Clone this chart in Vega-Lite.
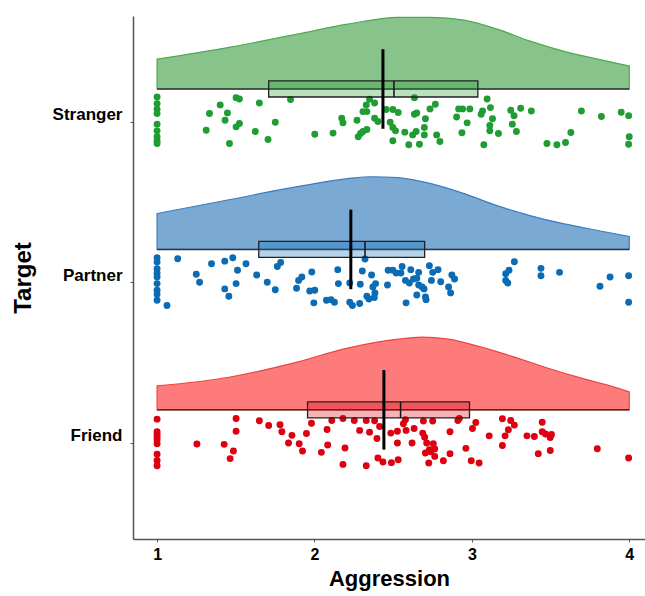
{
  "$schema": "https://vega.github.io/schema/vega-lite/v6.json",
  "width": 512,
  "height": 523,
  "autosize": {"type": "none"},
  "padding": {"left": 133, "top": 16, "right": 0, "bottom": 57},
  "background": "white",
  "config": {
    "view": {"stroke": null},
    "font": "Liberation Sans",
    "axis": {"grid": false}
  },
  "datasets": {
    "density": [
      {"target": "Stranger", "aggression": 1.0, "top": 3.391, "base": 3.205},
      {"target": "Stranger", "aggression": 1.465, "top": 3.466, "base": 3.205},
      {"target": "Stranger", "aggression": 1.89, "top": 3.547, "base": 3.205},
      {"target": "Stranger", "aggression": 2.21, "top": 3.609, "base": 3.205},
      {"target": "Stranger", "aggression": 2.53, "top": 3.652, "base": 3.205},
      {"target": "Stranger", "aggression": 2.74, "top": 3.652, "base": 3.205},
      {"target": "Stranger", "aggression": 2.95, "top": 3.634, "base": 3.205},
      {"target": "Stranger", "aggression": 3.16, "top": 3.578, "base": 3.205},
      {"target": "Stranger", "aggression": 3.37, "top": 3.503, "base": 3.205},
      {"target": "Stranger", "aggression": 3.58, "top": 3.441, "base": 3.205},
      {"target": "Stranger", "aggression": 3.80, "top": 3.391, "base": 3.205},
      {"target": "Stranger", "aggression": 4.0, "top": 3.348, "base": 3.205},
      {"target": "Partner", "aggression": 1.0, "top": 2.429, "base": 2.205},
      {"target": "Partner", "aggression": 1.465, "top": 2.516, "base": 2.205},
      {"target": "Partner", "aggression": 1.89, "top": 2.596, "base": 2.205},
      {"target": "Partner", "aggression": 2.21, "top": 2.646, "base": 2.205},
      {"target": "Partner", "aggression": 2.36, "top": 2.658, "base": 2.205},
      {"target": "Partner", "aggression": 2.53, "top": 2.652, "base": 2.205},
      {"target": "Partner", "aggression": 2.74, "top": 2.615, "base": 2.205},
      {"target": "Partner", "aggression": 2.95, "top": 2.553, "base": 2.205},
      {"target": "Partner", "aggression": 3.16, "top": 2.478, "base": 2.205},
      {"target": "Partner", "aggression": 3.37, "top": 2.416, "base": 2.205},
      {"target": "Partner", "aggression": 3.58, "top": 2.366, "base": 2.205},
      {"target": "Partner", "aggression": 3.80, "top": 2.323, "base": 2.205},
      {"target": "Partner", "aggression": 4.0, "top": 2.286, "base": 2.205},
      {"target": "Friend", "aggression": 1.0, "top": 1.354, "base": 1.205},
      {"target": "Friend", "aggression": 1.465, "top": 1.410, "base": 1.205},
      {"target": "Friend", "aggression": 1.89, "top": 1.503, "base": 1.205},
      {"target": "Friend", "aggression": 2.21, "top": 1.590, "base": 1.205},
      {"target": "Friend", "aggression": 2.53, "top": 1.646, "base": 1.205},
      {"target": "Friend", "aggression": 2.68, "top": 1.658, "base": 1.205},
      {"target": "Friend", "aggression": 2.85, "top": 1.646, "base": 1.205},
      {"target": "Friend", "aggression": 3.06, "top": 1.596, "base": 1.205},
      {"target": "Friend", "aggression": 3.27, "top": 1.534, "base": 1.205},
      {"target": "Friend", "aggression": 3.48, "top": 1.466, "base": 1.205},
      {"target": "Friend", "aggression": 3.69, "top": 1.404, "base": 1.205},
      {"target": "Friend", "aggression": 3.90, "top": 1.348, "base": 1.205},
      {"target": "Friend", "aggression": 4.0, "top": 1.317, "base": 1.205}
    ],
    "summary": [
      {"target": "Stranger", "q1": 1.709, "q3": 3.038, "median": 2.505, "mean": 2.435, "boxLo": 3.155, "boxHi": 3.255, "meanLo": 2.957, "meanHi": 3.453, "base": 3.205, "xmin": 1, "xmax": 4},
      {"target": "Partner", "q1": 1.646, "q3": 2.70, "median": 2.321, "mean": 2.231, "boxLo": 2.155, "boxHi": 2.255, "meanLo": 1.957, "meanHi": 2.453, "base": 2.205, "xmin": 1, "xmax": 4},
      {"target": "Friend", "q1": 1.956, "q3": 2.985, "median": 2.547, "mean": 2.441, "boxLo": 1.155, "boxHi": 1.255, "meanLo": 0.957, "meanHi": 1.453, "base": 1.205, "xmin": 1, "xmax": 4}
    ],
    "points": [
      {"target": "Stranger", "aggression": 1.0, "y": 3.155},
      {"target": "Stranger", "aggression": 1.0, "y": 3.114},
      {"target": "Stranger", "aggression": 1.0, "y": 3.079},
      {"target": "Stranger", "aggression": 1.0, "y": 3.052},
      {"target": "Stranger", "aggression": 1.0, "y": 2.986},
      {"target": "Stranger", "aggression": 1.0, "y": 2.944},
      {"target": "Stranger", "aggression": 1.0, "y": 2.907},
      {"target": "Stranger", "aggression": 1.0, "y": 2.882},
      {"target": "Stranger", "aggression": 1.0, "y": 2.865},
      {"target": "Stranger", "aggression": 1.502, "y": 3.151},
      {"target": "Stranger", "aggression": 1.523, "y": 3.143},
      {"target": "Stranger", "aggression": 1.650, "y": 3.118},
      {"target": "Stranger", "aggression": 1.401, "y": 3.106},
      {"target": "Stranger", "aggression": 1.848, "y": 3.139},
      {"target": "Stranger", "aggression": 1.333, "y": 3.052},
      {"target": "Stranger", "aggression": 1.447, "y": 3.056},
      {"target": "Stranger", "aggression": 1.432, "y": 3.010},
      {"target": "Stranger", "aggression": 1.312, "y": 2.948},
      {"target": "Stranger", "aggression": 1.502, "y": 2.969},
      {"target": "Stranger", "aggression": 1.523, "y": 2.990},
      {"target": "Stranger", "aggression": 1.460, "y": 2.865},
      {"target": "Stranger", "aggression": 1.624, "y": 2.940},
      {"target": "Stranger", "aggression": 1.705, "y": 2.890},
      {"target": "Stranger", "aggression": 1.751, "y": 2.998},
      {"target": "Stranger", "aggression": 2.002, "y": 2.923},
      {"target": "Stranger", "aggression": 2.118, "y": 2.930},
      {"target": "Stranger", "aggression": 2.350, "y": 3.141},
      {"target": "Stranger", "aggression": 2.329, "y": 3.106},
      {"target": "Stranger", "aggression": 2.382, "y": 3.118},
      {"target": "Stranger", "aggression": 2.308, "y": 3.064},
      {"target": "Stranger", "aggression": 2.333, "y": 3.064},
      {"target": "Stranger", "aggression": 2.173, "y": 3.023},
      {"target": "Stranger", "aggression": 2.181, "y": 2.994},
      {"target": "Stranger", "aggression": 2.270, "y": 3.010},
      {"target": "Stranger", "aggression": 2.382, "y": 3.023},
      {"target": "Stranger", "aggression": 2.403, "y": 3.002},
      {"target": "Stranger", "aggression": 2.308, "y": 2.940},
      {"target": "Stranger", "aggression": 2.333, "y": 2.952},
      {"target": "Stranger", "aggression": 2.278, "y": 2.907},
      {"target": "Stranger", "aggression": 2.293, "y": 2.928},
      {"target": "Stranger", "aggression": 2.456, "y": 3.077},
      {"target": "Stranger", "aggression": 2.498, "y": 3.077},
      {"target": "Stranger", "aggression": 2.532, "y": 3.058},
      {"target": "Stranger", "aggression": 2.481, "y": 2.998},
      {"target": "Stranger", "aggression": 2.498, "y": 2.965},
      {"target": "Stranger", "aggression": 2.515, "y": 2.944},
      {"target": "Stranger", "aggression": 2.498, "y": 2.882},
      {"target": "Stranger", "aggression": 2.574, "y": 2.936},
      {"target": "Stranger", "aggression": 2.599, "y": 2.857},
      {"target": "Stranger", "aggression": 2.635, "y": 3.151},
      {"target": "Stranger", "aggression": 2.635, "y": 3.048},
      {"target": "Stranger", "aggression": 2.650, "y": 3.056},
      {"target": "Stranger", "aggression": 2.705, "y": 3.019},
      {"target": "Stranger", "aggression": 2.698, "y": 2.965},
      {"target": "Stranger", "aggression": 2.646, "y": 2.940},
      {"target": "Stranger", "aggression": 2.624, "y": 2.919},
      {"target": "Stranger", "aggression": 2.698, "y": 2.919},
      {"target": "Stranger", "aggression": 2.667, "y": 2.861},
      {"target": "Stranger", "aggression": 2.734, "y": 3.081},
      {"target": "Stranger", "aggression": 2.768, "y": 3.110},
      {"target": "Stranger", "aggression": 2.776, "y": 2.919},
      {"target": "Stranger", "aggression": 2.797, "y": 2.878},
      {"target": "Stranger", "aggression": 2.903, "y": 3.031},
      {"target": "Stranger", "aggression": 2.916, "y": 3.081},
      {"target": "Stranger", "aggression": 2.941, "y": 3.081},
      {"target": "Stranger", "aggression": 2.987, "y": 3.081},
      {"target": "Stranger", "aggression": 2.970, "y": 2.994},
      {"target": "Stranger", "aggression": 2.937, "y": 2.932},
      {"target": "Stranger", "aggression": 3.097, "y": 3.143},
      {"target": "Stranger", "aggression": 3.118, "y": 3.089},
      {"target": "Stranger", "aggression": 3.068, "y": 3.068},
      {"target": "Stranger", "aggression": 3.059, "y": 3.048},
      {"target": "Stranger", "aggression": 3.131, "y": 3.019},
      {"target": "Stranger", "aggression": 3.114, "y": 2.977},
      {"target": "Stranger", "aggression": 3.114, "y": 2.944},
      {"target": "Stranger", "aggression": 3.169, "y": 2.928},
      {"target": "Stranger", "aggression": 3.076, "y": 2.857},
      {"target": "Stranger", "aggression": 3.247, "y": 3.072},
      {"target": "Stranger", "aggression": 3.268, "y": 3.039},
      {"target": "Stranger", "aggression": 3.310, "y": 3.085},
      {"target": "Stranger", "aggression": 3.378, "y": 3.068},
      {"target": "Stranger", "aggression": 3.257, "y": 2.986},
      {"target": "Stranger", "aggression": 3.283, "y": 2.940},
      {"target": "Stranger", "aggression": 3.477, "y": 2.865},
      {"target": "Stranger", "aggression": 3.540, "y": 2.857},
      {"target": "Stranger", "aggression": 3.595, "y": 2.872},
      {"target": "Stranger", "aggression": 3.629, "y": 2.934},
      {"target": "Stranger", "aggression": 3.696, "y": 3.068},
      {"target": "Stranger", "aggression": 3.823, "y": 3.033},
      {"target": "Stranger", "aggression": 3.949, "y": 3.060},
      {"target": "Stranger", "aggression": 3.996, "y": 3.039},
      {"target": "Stranger", "aggression": 4.0, "y": 2.907},
      {"target": "Stranger", "aggression": 3.996, "y": 2.861},
      {"target": "Partner", "aggression": 1.0, "y": 2.153},
      {"target": "Partner", "aggression": 1.0, "y": 2.126},
      {"target": "Partner", "aggression": 1.0, "y": 2.085},
      {"target": "Partner", "aggression": 1.0, "y": 2.058},
      {"target": "Partner", "aggression": 1.0, "y": 2.033},
      {"target": "Partner", "aggression": 1.0, "y": 1.992},
      {"target": "Partner", "aggression": 1.0, "y": 1.950},
      {"target": "Partner", "aggression": 1.0, "y": 1.925},
      {"target": "Partner", "aggression": 1.0, "y": 1.888},
      {"target": "Partner", "aggression": 1.063, "y": 1.855},
      {"target": "Partner", "aggression": 1.131, "y": 2.147},
      {"target": "Partner", "aggression": 1.249, "y": 2.050},
      {"target": "Partner", "aggression": 1.270, "y": 2.000},
      {"target": "Partner", "aggression": 1.346, "y": 2.116},
      {"target": "Partner", "aggression": 1.430, "y": 2.132},
      {"target": "Partner", "aggression": 1.481, "y": 2.153},
      {"target": "Partner", "aggression": 1.511, "y": 2.075},
      {"target": "Partner", "aggression": 1.565, "y": 2.116},
      {"target": "Partner", "aggression": 1.430, "y": 1.959},
      {"target": "Partner", "aggression": 1.456, "y": 1.913},
      {"target": "Partner", "aggression": 1.502, "y": 1.992},
      {"target": "Partner", "aggression": 1.633, "y": 2.046},
      {"target": "Partner", "aggression": 1.700, "y": 2.000},
      {"target": "Partner", "aggression": 1.751, "y": 1.954},
      {"target": "Partner", "aggression": 1.785, "y": 2.124},
      {"target": "Partner", "aggression": 1.764, "y": 2.099},
      {"target": "Partner", "aggression": 1.886, "y": 1.963},
      {"target": "Partner", "aggression": 1.899, "y": 2.012},
      {"target": "Partner", "aggression": 1.920, "y": 2.033},
      {"target": "Partner", "aggression": 1.983, "y": 2.064},
      {"target": "Partner", "aggression": 1.970, "y": 1.946},
      {"target": "Partner", "aggression": 2.002, "y": 1.950},
      {"target": "Partner", "aggression": 1.996, "y": 1.872},
      {"target": "Partner", "aggression": 2.076, "y": 1.888},
      {"target": "Partner", "aggression": 2.105, "y": 1.892},
      {"target": "Partner", "aggression": 2.127, "y": 1.876},
      {"target": "Partner", "aggression": 2.148, "y": 2.079},
      {"target": "Partner", "aggression": 2.152, "y": 1.992},
      {"target": "Partner", "aggression": 2.224, "y": 1.996},
      {"target": "Partner", "aggression": 2.224, "y": 1.876},
      {"target": "Partner", "aggression": 2.241, "y": 1.855},
      {"target": "Partner", "aggression": 2.287, "y": 1.868},
      {"target": "Partner", "aggression": 2.291, "y": 1.988},
      {"target": "Partner", "aggression": 2.304, "y": 2.070},
      {"target": "Partner", "aggression": 2.321, "y": 2.145},
      {"target": "Partner", "aggression": 2.363, "y": 2.046},
      {"target": "Partner", "aggression": 2.371, "y": 1.971},
      {"target": "Partner", "aggression": 2.388, "y": 1.992},
      {"target": "Partner", "aggression": 2.333, "y": 1.913},
      {"target": "Partner", "aggression": 2.346, "y": 1.896},
      {"target": "Partner", "aggression": 2.380, "y": 1.905},
      {"target": "Partner", "aggression": 2.384, "y": 1.934},
      {"target": "Partner", "aggression": 2.464, "y": 1.983},
      {"target": "Partner", "aggression": 2.468, "y": 2.075},
      {"target": "Partner", "aggression": 2.498, "y": 2.075},
      {"target": "Partner", "aggression": 2.519, "y": 2.058},
      {"target": "Partner", "aggression": 2.557, "y": 2.099},
      {"target": "Partner", "aggression": 2.549, "y": 2.058},
      {"target": "Partner", "aggression": 2.578, "y": 2.012},
      {"target": "Partner", "aggression": 2.603, "y": 1.996},
      {"target": "Partner", "aggression": 2.612, "y": 2.079},
      {"target": "Partner", "aggression": 2.629, "y": 2.021},
      {"target": "Partner", "aggression": 2.650, "y": 2.025},
      {"target": "Partner", "aggression": 2.662, "y": 2.062},
      {"target": "Partner", "aggression": 2.650, "y": 1.921},
      {"target": "Partner", "aggression": 2.662, "y": 1.983},
      {"target": "Partner", "aggression": 2.684, "y": 1.971},
      {"target": "Partner", "aggression": 2.696, "y": 1.959},
      {"target": "Partner", "aggression": 2.705, "y": 1.909},
      {"target": "Partner", "aggression": 2.709, "y": 1.892},
      {"target": "Partner", "aggression": 2.582, "y": 1.872},
      {"target": "Partner", "aggression": 2.730, "y": 2.104},
      {"target": "Partner", "aggression": 2.751, "y": 2.062},
      {"target": "Partner", "aggression": 2.743, "y": 2.012},
      {"target": "Partner", "aggression": 2.785, "y": 2.079},
      {"target": "Partner", "aggression": 2.802, "y": 2.004},
      {"target": "Partner", "aggression": 2.852, "y": 1.971},
      {"target": "Partner", "aggression": 2.865, "y": 1.934},
      {"target": "Partner", "aggression": 2.873, "y": 2.046},
      {"target": "Partner", "aggression": 2.890, "y": 2.021},
      {"target": "Partner", "aggression": 3.215, "y": 2.054},
      {"target": "Partner", "aggression": 3.236, "y": 2.075},
      {"target": "Partner", "aggression": 3.215, "y": 2.012},
      {"target": "Partner", "aggression": 3.228, "y": 1.996},
      {"target": "Partner", "aggression": 3.270, "y": 2.128},
      {"target": "Partner", "aggression": 3.439, "y": 2.087},
      {"target": "Partner", "aggression": 3.439, "y": 2.041},
      {"target": "Partner", "aggression": 3.557, "y": 2.062},
      {"target": "Partner", "aggression": 3.814, "y": 1.975},
      {"target": "Partner", "aggression": 3.878, "y": 2.033},
      {"target": "Partner", "aggression": 3.996, "y": 2.041},
      {"target": "Partner", "aggression": 3.996, "y": 1.876},
      {"target": "Friend", "aggression": 1.0, "y": 1.147},
      {"target": "Friend", "aggression": 1.0, "y": 1.068},
      {"target": "Friend", "aggression": 1.0, "y": 1.052},
      {"target": "Friend", "aggression": 1.0, "y": 1.035},
      {"target": "Friend", "aggression": 1.0, "y": 1.019},
      {"target": "Friend", "aggression": 1.0, "y": 0.994},
      {"target": "Friend", "aggression": 1.0, "y": 0.928},
      {"target": "Friend", "aggression": 1.0, "y": 0.890},
      {"target": "Friend", "aggression": 1.0, "y": 0.857},
      {"target": "Friend", "aggression": 1.253, "y": 0.992},
      {"target": "Friend", "aggression": 1.426, "y": 0.990},
      {"target": "Friend", "aggression": 1.485, "y": 0.948},
      {"target": "Friend", "aggression": 1.464, "y": 0.901},
      {"target": "Friend", "aggression": 1.502, "y": 1.151},
      {"target": "Friend", "aggression": 1.502, "y": 1.072},
      {"target": "Friend", "aggression": 1.650, "y": 1.137},
      {"target": "Friend", "aggression": 1.709, "y": 1.108},
      {"target": "Friend", "aggression": 1.781, "y": 1.112},
      {"target": "Friend", "aggression": 1.793, "y": 1.068},
      {"target": "Friend", "aggression": 1.835, "y": 0.998},
      {"target": "Friend", "aggression": 1.857, "y": 1.046},
      {"target": "Friend", "aggression": 1.903, "y": 0.994},
      {"target": "Friend", "aggression": 1.924, "y": 0.948},
      {"target": "Friend", "aggression": 1.949, "y": 1.058},
      {"target": "Friend", "aggression": 1.981, "y": 1.122},
      {"target": "Friend", "aggression": 2.044, "y": 0.940},
      {"target": "Friend", "aggression": 2.080, "y": 1.083},
      {"target": "Friend", "aggression": 2.084, "y": 0.986},
      {"target": "Friend", "aggression": 2.110, "y": 1.139},
      {"target": "Friend", "aggression": 2.181, "y": 1.151},
      {"target": "Friend", "aggression": 2.194, "y": 0.967},
      {"target": "Friend", "aggression": 2.181, "y": 0.865},
      {"target": "Friend", "aggression": 2.253, "y": 1.139},
      {"target": "Friend", "aggression": 2.287, "y": 1.077},
      {"target": "Friend", "aggression": 2.329, "y": 1.139},
      {"target": "Friend", "aggression": 2.329, "y": 0.857},
      {"target": "Friend", "aggression": 2.350, "y": 1.066},
      {"target": "Friend", "aggression": 2.382, "y": 1.137},
      {"target": "Friend", "aggression": 2.397, "y": 1.027},
      {"target": "Friend", "aggression": 2.403, "y": 0.905},
      {"target": "Friend", "aggression": 2.414, "y": 1.101},
      {"target": "Friend", "aggression": 2.435, "y": 0.880},
      {"target": "Friend", "aggression": 2.489, "y": 0.876},
      {"target": "Friend", "aggression": 2.485, "y": 1.060},
      {"target": "Friend", "aggression": 2.532, "y": 0.894},
      {"target": "Friend", "aggression": 2.527, "y": 1.072},
      {"target": "Friend", "aggression": 2.527, "y": 0.998},
      {"target": "Friend", "aggression": 2.565, "y": 1.118},
      {"target": "Friend", "aggression": 2.582, "y": 1.077},
      {"target": "Friend", "aggression": 2.578, "y": 1.143},
      {"target": "Friend", "aggression": 2.620, "y": 0.998},
      {"target": "Friend", "aggression": 2.633, "y": 1.089},
      {"target": "Friend", "aggression": 2.692, "y": 1.135},
      {"target": "Friend", "aggression": 2.688, "y": 1.060},
      {"target": "Friend", "aggression": 2.700, "y": 1.035},
      {"target": "Friend", "aggression": 2.713, "y": 0.998},
      {"target": "Friend", "aggression": 2.705, "y": 0.936},
      {"target": "Friend", "aggression": 2.726, "y": 0.874},
      {"target": "Friend", "aggression": 2.730, "y": 0.957},
      {"target": "Friend", "aggression": 2.738, "y": 0.944},
      {"target": "Friend", "aggression": 2.751, "y": 1.135},
      {"target": "Friend", "aggression": 2.755, "y": 0.994},
      {"target": "Friend", "aggression": 2.764, "y": 0.961},
      {"target": "Friend", "aggression": 2.764, "y": 0.915},
      {"target": "Friend", "aggression": 2.819, "y": 0.888},
      {"target": "Friend", "aggression": 2.861, "y": 1.068},
      {"target": "Friend", "aggression": 2.861, "y": 0.932},
      {"target": "Friend", "aggression": 2.911, "y": 1.139},
      {"target": "Friend", "aggression": 2.920, "y": 1.151},
      {"target": "Friend", "aggression": 2.962, "y": 0.965},
      {"target": "Friend", "aggression": 2.996, "y": 0.888},
      {"target": "Friend", "aggression": 3.004, "y": 1.089},
      {"target": "Friend", "aggression": 3.025, "y": 1.126},
      {"target": "Friend", "aggression": 3.046, "y": 0.874},
      {"target": "Friend", "aggression": 3.110, "y": 1.043},
      {"target": "Friend", "aggression": 3.194, "y": 1.149},
      {"target": "Friend", "aggression": 3.194, "y": 0.983},
      {"target": "Friend", "aggression": 3.211, "y": 1.043},
      {"target": "Friend", "aggression": 3.232, "y": 1.081},
      {"target": "Friend", "aggression": 3.247, "y": 1.139},
      {"target": "Friend", "aggression": 3.270, "y": 1.110},
      {"target": "Friend", "aggression": 3.350, "y": 1.043},
      {"target": "Friend", "aggression": 3.397, "y": 1.039},
      {"target": "Friend", "aggression": 3.422, "y": 0.932},
      {"target": "Friend", "aggression": 3.447, "y": 1.128},
      {"target": "Friend", "aggression": 3.447, "y": 1.068},
      {"target": "Friend", "aggression": 3.468, "y": 1.054},
      {"target": "Friend", "aggression": 3.498, "y": 1.033},
      {"target": "Friend", "aggression": 3.506, "y": 1.052},
      {"target": "Friend", "aggression": 3.498, "y": 0.952},
      {"target": "Friend", "aggression": 3.797, "y": 0.963},
      {"target": "Friend", "aggression": 3.996, "y": 0.905}
    ]
  },
  "layer": [
    {
      "data": {"name": "density"},
      "mark": {"type": "area", "interpolate": "monotone", "strokeWidth": 1.2, "fillOpacity": 1},
      "encoding": {
        "x": {
          "field": "aggression", "type": "quantitative",
          "scale": {"domain": [0.847, 4.1], "nice": false, "zero": false},
          "axis": {
            "title": "Aggression", "values": [1, 2, 3, 4], "format": "d",
            "titleFontSize": 22, "titleFontWeight": "bold", "titleColor": "#000",
            "labelFontSize": 16, "labelFontWeight": "bold", "labelColor": "#000",
            "domainColor": "#555", "domainWidth": 1.5, "tickColor": "#555", "tickSize": 3,
            "labelPadding": 4, "titlePadding": 6
          }
        },
        "y": {
          "field": "top", "type": "quantitative",
          "scale": {"domain": [0.4, 3.66], "nice": false, "zero": false},
          "axis": {
            "title": "Target", "values": [1, 2, 3],
            "labelExpr": "datum.value == 1 ? 'Friend' : datum.value == 2 ? 'Partner' : 'Stranger'",
            "titleFontSize": 24, "titleFontWeight": "bold", "titleColor": "#000",
            "labelFontSize": 17, "labelFontWeight": "bold", "labelColor": "#000",
            "domainColor": "#555", "domainWidth": 1.5, "tickColor": "#555", "tickSize": 3,
            "labelPadding": 8, "labelOffset": -7, "titlePadding": 17
          }
        },
        "y2": {"field": "base"},
        "fill": {
          "field": "target", "type": "nominal", "legend": null,
          "scale": {"domain": ["Friend", "Partner", "Stranger"], "range": ["#FD7B7A", "#7AA9D4", "#87C38A"]}
        },
        "stroke": {
          "field": "target", "type": "nominal", "legend": null,
          "scale": {"domain": ["Friend", "Partner", "Stranger"], "range": ["#EE4444", "#3B7DBE", "#4DAA50"]}
        }
      }
    },
    {
      "data": {"name": "summary"},
      "mark": {"type": "rule", "color": "#333", "strokeWidth": 1.5},
      "encoding": {
        "x": {"field": "xmin", "type": "quantitative"},
        "x2": {"field": "xmax"},
        "y": {"field": "base", "type": "quantitative"}
      }
    },
    {
      "data": {"name": "points"},
      "mark": {"type": "circle", "size": 48, "opacity": 1},
      "encoding": {
        "x": {"field": "aggression", "type": "quantitative"},
        "y": {"field": "y", "type": "quantitative"},
        "color": {
          "field": "target", "type": "nominal", "legend": null,
          "scale": {"domain": ["Friend", "Partner", "Stranger"], "range": ["#DE0010", "#0B6CB5", "#1F9D33"]}
        }
      }
    },
    {
      "data": {"name": "summary"},
      "mark": {"type": "rect", "fillOpacity": 0.3, "stroke": "#222", "strokeWidth": 1.3},
      "encoding": {
        "x": {"field": "q1", "type": "quantitative"},
        "x2": {"field": "q3"},
        "y": {"field": "boxLo", "type": "quantitative"},
        "y2": {"field": "boxHi"},
        "fill": {
          "field": "target", "type": "nominal", "legend": null,
          "scale": {"domain": ["Friend", "Partner", "Stranger"], "range": ["#DE0010", "#0B6CB5", "#1F9D33"]}
        }
      }
    },
    {
      "data": {"name": "summary"},
      "mark": {"type": "rule", "color": "#111", "strokeWidth": 1.5},
      "encoding": {
        "x": {"field": "median", "type": "quantitative"},
        "y": {"field": "boxLo", "type": "quantitative"},
        "y2": {"field": "boxHi"}
      }
    },
    {
      "data": {"name": "summary"},
      "mark": {"type": "rule", "color": "#000", "strokeWidth": 3},
      "encoding": {
        "x": {"field": "mean", "type": "quantitative"},
        "y": {"field": "meanLo", "type": "quantitative"},
        "y2": {"field": "meanHi"}
      }
    }
  ],
  "resolve": {"scale": {"color": "independent", "fill": "independent", "stroke": "independent"}}
}
